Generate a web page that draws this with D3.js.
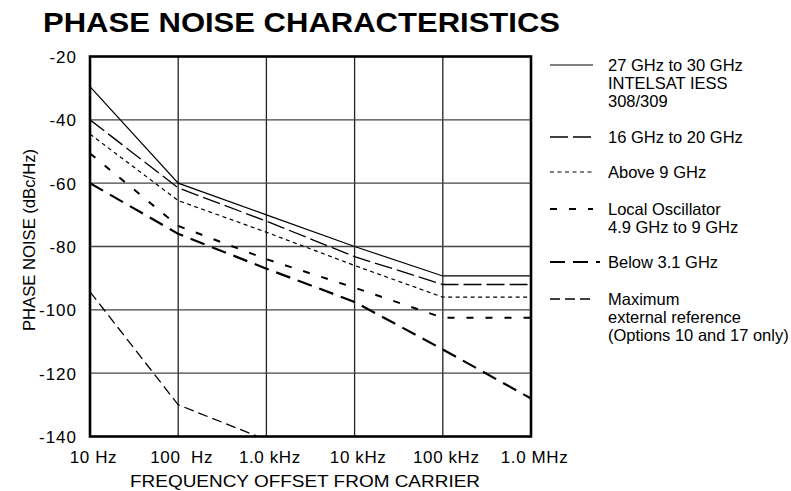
<html>
<head>
  <title>Phase Noise Characteristics</title>
  <script src="https://d3js.org/d3.v7.min.js" charset="utf-8"></script>
  <style>
    body { margin: 0; background: #fff; }
    text { font-family: "Liberation Sans", Arial, Helvetica, sans-serif; fill: #000; }
  </style>
</head>
<body>
  <div id="container"></div>
  <script>

    // offsets from carrier (Hz) and the curves
    var freqs = [10, 100, 1000, 10000, 100000, 1000000]
    var s27to30 = [-29.5, -60, -70, -80, -89.3, -89.3]
    var s16to20 = [-40, -61.5, -72, -83.2, -92, -92]
    var sAbove9 = [-44.5, -65.5, -75.5, -86, -96, -96]
    var sLocalOsc = [-50.6, -73.5, -84, -93, -102.5, -102.5]
    var sBelow31 = [-60, -76, -87, -97.5, -112.5, -128]
    var maxRefFreqs = [10, 100, 805]
    var sMaxRef = [-94.3, -130, -140]

    var xTicks = [10, 100, 1000, 10000, 100000, 1000000]
    var xTickLabels = ["10 Hz", "100  Hz", "1.0 kHz", "10 kHz", "100 kHz", "1.0 MHz"]
    var yTicks = [-20, -40, -60, -80, -100, -120, -140]

    var legendLabels = [
      ["27 GHz to 30 GHz", "INTELSAT IESS", "308/309"],
      ["16 GHz to 20 GHz"],
      ["Above 9 GHz"],
      ["Local Oscillator", "4.9 GHz to 9 GHz"],
      ["Below 3.1 GHz"],
      ["Maximum", "external reference", "(Options 10 and 17 only)"]
    ]

    var W = 791, H = 491
    var plot = { left: 90, right: 531, top: 56.5, bottom: 436.5 }

    var styles = [
      { w: 1.2, dash: null },
      { w: 1.3, dash: "18,5" },
      { w: 1.2, dash: "4,3.5" },
      { w: 2, dash: "7,12" },
      { w: 2.2, dash: "15,8" },
      { w: 1.3, dash: "10,5" }
    ]
    var legendY = [65, 137, 172, 209, 262, 299]

    var series = [
      freqs.map(function(f, i) { return [f, s27to30[i]] }),
      freqs.map(function(f, i) { return [f, s16to20[i]] }),
      freqs.map(function(f, i) { return [f, sAbove9[i]] }),
      freqs.map(function(f, i) { return [f, sLocalOsc[i]] }),
      freqs.map(function(f, i) { return [f, sBelow31[i]] }),
      maxRefFreqs.map(function(f, i) { return [f, sMaxRef[i]] })
    ]

    var svg = d3.select("#container").append("svg")
        .attr("width", W).attr("height", H)

    var x = d3.scaleLog().domain([10, 1000000]).range([plot.left, plot.right])
    var y = d3.scaleLinear().domain([-140, -20]).range([plot.bottom, plot.top])

    svg.append("text")
        .attr("x", 43).attr("y", 32)
        .attr("textLength", 517).attr("lengthAdjust", "spacingAndGlyphs")
        .style("font-size", "28px").style("font-weight", "bold")
        .text("PHASE NOISE CHARACTERISTICS")

    // grid
    svg.append("g").selectAll("line")
        .data(xTicks.slice(1, -1))
        .enter().append("line")
        .attr("x1", function(d) { return x(d) }).attr("x2", function(d) { return x(d) })
        .attr("y1", plot.top).attr("y2", plot.bottom)
        .attr("stroke", "#222").attr("stroke-width", 1.3)

    svg.append("g").selectAll("line")
        .data(yTicks.slice(1, -1))
        .enter().append("line")
        .attr("y1", function(d) { return y(d) }).attr("y2", function(d) { return y(d) })
        .attr("x1", plot.left).attr("x2", plot.right)
        .attr("stroke", "#444").attr("stroke-width", 1.4)

    svg.append("defs").append("clipPath").attr("id", "clip")
      .append("rect")
        .attr("x", plot.left).attr("y", plot.top)
        .attr("width", plot.right - plot.left).attr("height", plot.bottom - plot.top)

    var line = d3.line()
        .x(function(d) { return x(d[0]) })
        .y(function(d) { return y(d[1]) })

    svg.append("g").attr("clip-path", "url(#clip)")
      .selectAll("path")
        .data(series)
        .enter().append("path")
        .attr("d", line)
        .attr("fill", "none")
        .attr("stroke", "#000")
        .attr("stroke-width", function(d, i) { return styles[i].w })
        .attr("stroke-dasharray", function(d, i) { return styles[i].dash })

    // frame
    svg.append("rect")
        .attr("x", plot.left).attr("y", plot.top)
        .attr("width", plot.right - plot.left).attr("height", plot.bottom - plot.top)
        .attr("fill", "none").attr("stroke", "#000").attr("stroke-width", 2.6)

    var yAxis = d3.axisLeft(y).tickValues(yTicks).tickSize(0).tickPadding(13)
        .tickFormat(function(d) { return d })
    var gy = svg.append("g").attr("transform", "translate(" + plot.left + ",0)").call(yAxis)
    gy.select(".domain").remove()
    gy.selectAll("text").style("font-size", "17px").style("font-family", null)
        .style("letter-spacing", "1px")
        .attr("dy", "0.36em")

    var xAxis = d3.axisBottom(x).tickValues(xTicks).tickSize(0).tickPadding(14)
        .tickFormat(function(d, i) { return xTickLabels[i] })
    var gx = svg.append("g").attr("transform", "translate(0," + plot.bottom + ")").call(xAxis)
    gx.select(".domain").remove()
    gx.selectAll("text").style("font-size", "17px").style("font-family", null)
        .style("letter-spacing", "0.6px")
        .style("white-space", "pre").attr("dx", 3)

    svg.append("text")
        .attr("x", 305).attr("y", 487)
        .attr("text-anchor", "middle")
        .attr("textLength", 350).attr("lengthAdjust", "spacingAndGlyphs")
        .style("font-size", "16.5px")
        .text("FREQUENCY OFFSET FROM CARRIER")

    svg.append("text")
        .attr("transform", "translate(35,240) rotate(-90)")
        .attr("text-anchor", "middle")
        .attr("textLength", 182).attr("lengthAdjust", "spacingAndGlyphs")
        .style("font-size", "16.5px")
        .text("PHASE NOISE (dBc/Hz)")

    // legend
    var leg = svg.append("g").selectAll("g")
        .data(legendLabels)
        .enter().append("g")
        .attr("transform", function(d, i) { return "translate(0," + legendY[i] + ")" })

    leg.append("line")
        .attr("x1", 550).attr("x2", function(d, i) { return i == 4 ? 600 : 593 })
        .attr("y1", 0).attr("y2", 0)
        .attr("stroke", "#000")
        .attr("stroke-width", function(d, i) { return styles[i].w })
        .attr("stroke-dasharray", function(d, i) { return styles[i].dash })

    leg.each(function(d) {
      var t = d3.select(this).append("text")
          .style("font-size", "16.5px")
      d.forEach(function(s, j) {
        t.append("tspan").attr("x", 608).attr("y", j * 18 + 5.9).text(s)
      })
    })

  </script>
</body>
</html>
